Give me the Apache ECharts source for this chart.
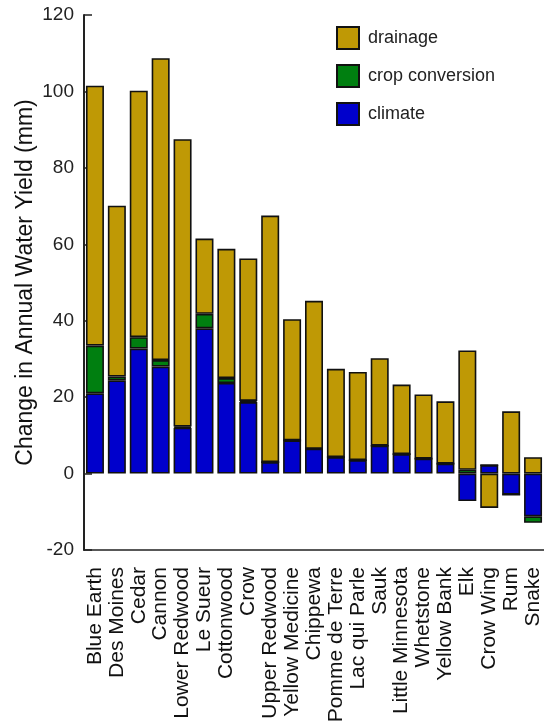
<!DOCTYPE html>
<html>
<head>
<meta charset="utf-8">
<script src="https://cdn.jsdelivr.net/npm/echarts@6/dist/echarts.min.js"></script>
<style>
html, body { margin: 0; padding: 0; background: #fff; }
#chart { width: 544px; height: 726px; }
</style>
</head>
<body>
<div id="chart"></div>
<script>
var rivers = ['Blue Earth', 'Des Moines', 'Cedar', 'Cannon', 'Lower Redwood', 'Le Sueur',
    'Cottonwood', 'Crow', 'Upper Redwood', 'Yellow Medicine', 'Chippewa', 'Pomme de Terre',
    'Lac qui Parle', 'Sauk', 'Little Minnesota', 'Whetstone', 'Yellow Bank', 'Elk',
    'Crow Wing', 'Rum', 'Snake'];
var climate = [21, 24.4, 32.7, 28, 12, 38, 23.7, 18.7, 3, 8.7, 6.5, 4.3, 3.5, 7.3, 5.1, 3.9, 2.6, -7.2, 2.2, -5.5, -11.2];
var cropConversion = [12.5, 1, 3, 1.7, 0.3, 3.8, 1.3, 0.3, 0, 0, 0, 0, 0, 0, 0, 0, 0, 1, 0, 0, -1.7];
var drainage = [68, 44.7, 64.5, 79, 75.2, 19.7, 33.8, 37.3, 64.5, 31.7, 38.7, 23.1, 23.1, 22.9, 18.2, 16.8, 16.3, 31.2, -9, 16.3, 4.3];
var yTicks = { min: -20, max: 120, step: 20 };

var font = 'Liberation Sans, Arial, sans-serif';
function bar(name, data, color) {
    return {
        name: name,
        type: 'bar',
        stack: 'total',
        data: data,
        barWidth: 18,
        itemStyle: { color: color, borderColor: '#111', borderWidth: 1.6 }
    };
}

var option = {
    animation: false,
    textStyle: { fontFamily: font },
    legend: {
        orient: 'vertical',
        left: 336,
        top: 26,
        padding: 0,
        itemWidth: 22,
        itemHeight: 22,
        itemGap: 14,
        icon: 'rect',
        data: ['drainage', 'crop conversion', 'climate'],
        textStyle: { fontSize: 18, color: '#222', fontFamily: font, padding: [0, 0, 0, 4] }
    },
    grid: { left: 84, right: 0, top: 15, bottom: 176 },
    xAxis: {
        type: 'category',
        data: rivers,
        axisLine: { onZero: false, lineStyle: { color: '#222', width: 1.5 } },
        axisTick: { inside: true, length: 6, lineStyle: { color: '#222', width: 1.5 } },
        axisLabel: { rotate: 90, fontSize: 21, color: '#111', margin: 17, interval: 0 }
    },
    yAxis: {
        type: 'value',
        min: yTicks.min,
        max: yTicks.max,
        interval: yTicks.step,
        name: 'Change in Annual Water Yield (mm)',
        nameLocation: 'middle',
        nameGap: 47,
        nameMoveOverlap: false,
        nameTextStyle: { fontSize: 23, color: '#111' },
        splitLine: { show: false },
        axisLine: { show: true, lineStyle: { color: '#222', width: 2 } },
        axisTick: { show: true, inside: true, length: 8, lineStyle: { color: '#222', width: 1.5 } },
        axisLabel: { fontSize: 19, color: '#222', margin: 10 }
    },
    series: [
        bar('climate', climate, '#0000cc'),
        bar('crop conversion', cropConversion, '#007f10'),
        bar('drainage', drainage, '#bf9905')
    ]
};

var chart = echarts.init(document.getElementById('chart'));
chart.setOption(option);
</script>
</body>
</html>
